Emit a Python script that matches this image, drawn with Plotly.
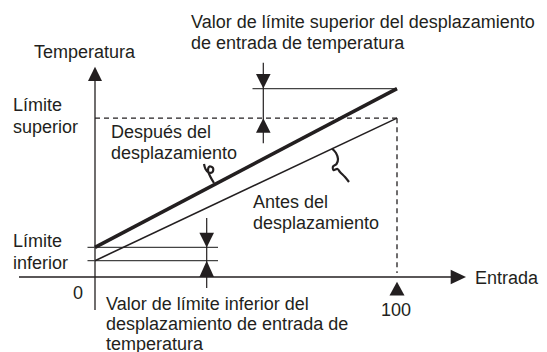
import plotly.graph_objects as go

# datos del diagrama (entrada en %, temperatura en unidades relativas)
entrada = [0, 100]
limite_inferior = 5.4
limite_superior = 52.6
desp_inferior = 4.4   # valor de límite inferior del desplazamiento
desp_superior = 9.8   # valor de límite superior del desplazamiento

antes = [limite_inferior, limite_superior]
despues = [limite_inferior + desp_inferior, limite_superior + desp_superior]

W, H = 547, 352
OFF = 8           # margen del body de la página
S = 3.02          # px por unidad
X0, Y0 = 95, 277  # posición del origen en px (página)
INK = "#231f20"
FONT = "Liberation Sans, Arial, sans-serif"


def X(px):
    return (px - X0) / S


def Y(py):
    return (Y0 - py) / S


def tri(x, y, d, w=14.6, h=14.6):
    # triángulo relleno, (x, y) es la punta
    hw, hh = w / 2 / S, h / S
    if d == "up":
        pts = [(x, y), (x - hw, y - hh), (x + hw, y - hh)]
    elif d == "down":
        pts = [(x, y), (x - hw, y + hh), (x + hw, y + hh)]
    else:
        pts = [(x, y), (x - hh, y - hw), (x - hh, y + hw)]
    p = "M{},{} L{},{} L{},{} Z".format(*[v for pt in pts for v in pt])
    return dict(type="path", path=p, xref="x", yref="y", fillcolor=INK,
                line=dict(width=0))


def seg(x, y, width=1.3, dash="solid", color=INK):
    return go.Scatter(x=x, y=y, mode="lines", showlegend=False, hoverinfo="skip",
                      line=dict(color=color, width=width, dash=dash))


fig = go.Figure()

# ejes
fig.add_trace(seg([X(19), X(451)], [0, 0]))
fig.add_trace(seg([0, 0], [Y(310), Y(81)]))

# líneas de límite
fig.add_trace(seg([0, entrada[1]], [limite_superior] * 2, width=1.3, dash="5px,4px"))
fig.add_trace(seg([entrada[1]] * 2, [limite_superior, Y(273)], width=1.3, dash="5px,4px"))
fig.add_trace(seg([X(252.5), entrada[1]], [despues[1]] * 2, width=1.2, color="#444"))
fig.add_trace(seg([X(87.5), X(218)], [despues[0]] * 2, width=1.2, color="#444"))
fig.add_trace(seg([X(87.5), X(218)], [limite_inferior] * 2, width=1.2, color="#444"))

# rectas antes / después del desplazamiento
fig.add_trace(seg(entrada, antes, width=1.6))
fig.add_trace(seg(entrada, despues, width=3.6))

# flechas de cota
xa_sup, xa_inf = X(263.3), X(206.7)
fig.add_trace(seg([xa_sup, xa_sup], [Y(62.7), Y(143.3)], width=1.2))
fig.add_trace(seg([xa_inf, xa_inf], [Y(218), Y(288)], width=1.2))

shapes = [
    tri(0, Y(66.7), "up", w=14, h=14.3),
    tri(X(466), 0, "right", w=14.3, h=15.3),
    tri(entrada[1], Y(281.7), "up", w=15, h=13.8),
    tri(xa_sup, despues[1], "down"),
    tri(xa_sup, limite_superior, "up"),
    tri(xa_inf, despues[0], "down"),
    tri(xa_inf, limite_inferior, "up", h=limite_inferior * S),
]

# rizos de referencia (px de página)
rizo1 = [(204, 164), (205.5, 169), (208.5, 172.5), (212.5, 172), (213, 168),
         (209.5, 166.5), (208, 170.5), (210.5, 177), (214, 183)]
rizo2 = [(332, 148.5), (336, 153), (338, 159), (336.5, 164), (333, 166.5),
         (333.5, 170), (337.5, 169), (340, 172), (345, 177), (349, 182)]
for r in (rizo1, rizo2):
    fig.add_trace(go.Scatter(x=[X(p[0]) for p in r], y=[Y(p[1]) for p in r],
                             mode="lines", line=dict(color=INK, width=2.2, shape="spline"),
                             showlegend=False, hoverinfo="skip"))

# textos: (texto, x px, y centro px, anclaje)
textos = [
    ("Valor de límite superior del desplazamiento", 190, 22, "left"),
    ("de entrada de temperatura", 190, 43.5, "left"),
    ("Temperatura", 33, 52, "left"),
    ("Límite", 12, 105, "left"),
    ("superior", 12, 126.5, "left"),
    ("Después del", 110, 132, "left"),
    ("desplazamiento", 110, 153, "left"),
    ("Antes del", 252, 201.5, "left"),
    ("desplazamiento", 252, 223, "left"),
    ("Límite", 12, 241, "left"),
    ("inferior", 12, 262.5, "left"),
    ("Entrada", 474, 278, "left"),
    ("0", 78, 292.5, "center"),
    ("Valor de límite inferior del", 105, 304, "left"),
    ("desplazamiento de entrada de", 105, 324, "left"),
    ("temperatura", 105, 343.5, "left"),
    ("100", 396, 310, "center"),
]
annotations = [
    dict(text=t, x=(px - OFF) / W, y=1 - (py - OFF) / H, xref="paper", yref="paper",
         xanchor=a, yanchor="middle", showarrow=False, borderpad=0,
         font=dict(family=FONT, size=18, color=INK))
    for t, px, py, a in textos
]

fig.update_layout(
    width=W, height=H,
    margin=dict(l=0, r=0, t=0, b=0),
    paper_bgcolor="white", plot_bgcolor="white",
    xaxis=dict(range=[X(OFF), X(OFF + W)], visible=False, fixedrange=True),
    yaxis=dict(range=[Y(OFF + H), Y(OFF)], visible=False, fixedrange=True),
    shapes=shapes,
    annotations=annotations,
    showlegend=False,
)

fig.write_html("out.html")
